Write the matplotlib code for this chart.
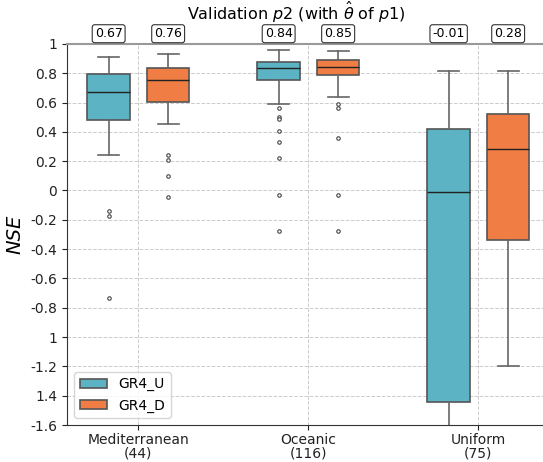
import numpy as np
import matplotlib.pyplot as plt

# climate groups and box stats
groups = ["Mediterranean\n(44)", "Oceanic\n(116)", "Uniform\n(75)"]
models = ["GR4_U", "GR4_D"]
colors = ["#5bb3c3", "#f07d44"]

med = {"GR4_U": [0.673, 0.835, -0.011], "GR4_D": [0.752, 0.844, 0.28]}
q1 = {"GR4_U": [0.483, 0.756, -1.444], "GR4_D": [0.607, 0.785, -0.338]}
q3 = {"GR4_U": [0.797, 0.878, 0.422], "GR4_D": [0.833, 0.887, 0.519]}
wlo = {"GR4_U": [0.24, 0.589, -1.8], "GR4_D": [0.456, 0.641, -1.2]}
whi = {"GR4_U": [0.91, 0.955, 0.815], "GR4_D": [0.932, 0.953, 0.815]}
fliers = {
    "GR4_U": [[-0.137, -0.173, -0.733],
              [0.565, 0.504, 0.49, 0.409, 0.33, 0.224, -0.034, -0.278],
              []],
    "GR4_D": [[0.244, 0.208, 0.097, -0.047],
              [0.592, 0.56, 0.355, -0.034, -0.275],
              []],
}
med_labels = {"GR4_U": ["0.67", "0.84", "-0.01"], "GR4_D": ["0.76", "0.85", "0.28"]}

yticks = [1, 0.8, 0.6, 0.4, 0.2, 0, -0.2, -0.4, -0.6, -0.8, -1.0, -1.2, -1.4, -1.6]
yticklabels = ["1", "0.8", "0.6", "0.4", "0.2", "0", "-0.2", "-0.4", "-0.6", "-0.8",
               "1", "-1.2", "1.4", "-1.6"]

fig = plt.figure(figsize=(5.43, 4.62), dpi=100)
ax = fig.add_axes([0.1234, 0.08, 0.8766, 0.825])

offsets = [-0.175, 0.175]
width = 0.25
handles = []
for m, (model, col) in enumerate(zip(models, colors)):
    stats = []
    for g in range(len(groups)):
        stats.append(dict(med=med[model][g], q1=q1[model][g], q3=q3[model][g],
                          whislo=wlo[model][g], whishi=whi[model][g],
                          fliers=fliers[model][g]))
    pos = np.arange(len(groups)) + offsets[m]
    bp = ax.bxp(stats, positions=pos, widths=width, patch_artist=True,
                showfliers=True,
                boxprops=dict(facecolor=col, edgecolor="#555555", linewidth=1.2),
                whiskerprops=dict(color="#666666", linewidth=1.2),
                capprops=dict(color="#666666", linewidth=1.2),
                medianprops=dict(color="#222222", linewidth=1.0),
                flierprops=dict(marker="o", markersize=2.5, markerfacecolor="white",
                                markeredgecolor="#444444", markeredgewidth=0.8))
    handles.append(bp["boxes"][0])
    for g in range(len(groups)):
        ax.text(pos[g], 1.025, med_labels[model][g], ha="center", va="bottom",
                fontsize=9,
                bbox=dict(boxstyle="round,pad=0.2", facecolor="white",
                          edgecolor="#333333", linewidth=0.8),
                clip_on=False)

ax.set_xlim(-0.42, 2.38)
ax.set_ylim(-1.6, 1.0)
ax.set_xticks(range(len(groups)))
ax.set_xticklabels(groups, fontsize=10, linespacing=1.0)
ax.tick_params(axis="x", pad=2)
ax.set_yticks(yticks)
ax.set_yticklabels(yticklabels, fontsize=10)
ax.set_ylabel("NSE", fontsize=14, style="italic")
ax.grid(True, linestyle="--", color="#cccccc", linewidth=0.7)
ax.set_axisbelow(True)
for s in ["left", "bottom"]:
    ax.spines[s].set_color("#333333")
ax.spines["top"].set_color("#999999")
ax.spines["top"].set_linewidth(1.5)
ax.spines["right"].set_visible(False)
ax.tick_params(colors="#222222")

fig.text(0.545, 0.972, r"Validation $p2$ (with $\hat{\theta}$ of $p1$)", ha="center",
         va="center", fontsize=11.5)

ax.legend(handles, models, loc="lower left", fontsize=10, frameon=True)

fig.savefig("out.png", dpi=100)
